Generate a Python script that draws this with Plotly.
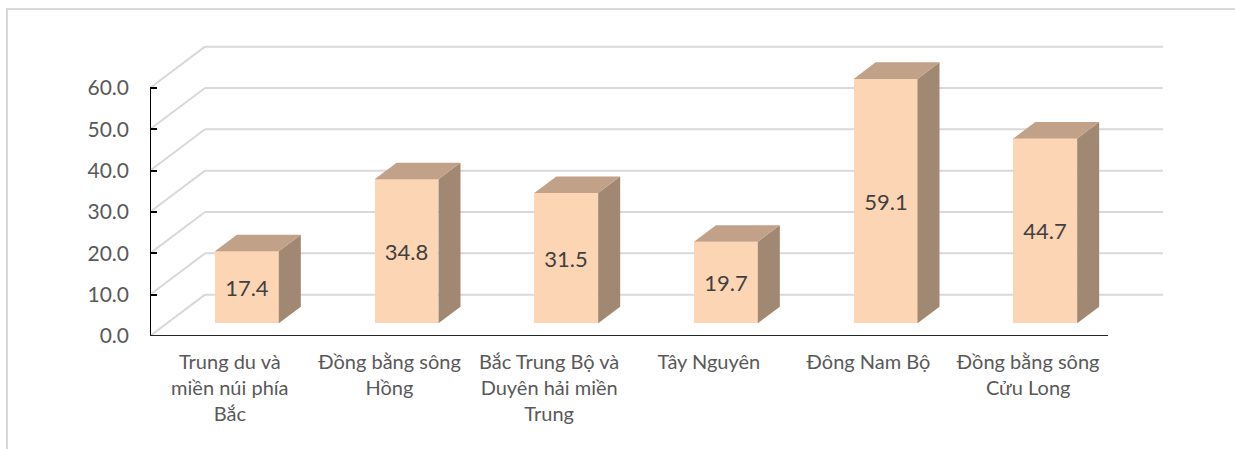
import plotly.graph_objects as go

# ---- data ----
categories = [
    "Trung du và<br>miền núi phía<br>Bắc",
    "Đồng bằng sông<br>Hồng",
    "Bắc Trung Bộ và<br>Duyên hải miền<br>Trung",
    "Tây Nguyên",
    "Đông Nam Bộ",
    "Đồng bằng sông<br>Cửu Long",
]
values = [17.4, 34.8, 31.5, 19.7, 59.1, 44.7]
value_labels = ["17.4", "34.8", "31.5", "19.7", "59.1", "44.7"]
y_ticks = [0, 10, 20, 30, 40, 50, 60]
y_tick_labels = ["0.0", "10.0", "20.0", "30.0", "40.0", "50.0", "60.0"]

# ---- 3D projection style parameters ----
DX, DY = 0.3445, 10.0        # depth vector (category units, value units)
T0, T1 = 0.31, 0.71          # bar depth span (fraction of full depth)
BAR_W = 0.4

FRONT = "#FCD5B4"
TOP = "#C1A187"
SIDE = "#A08872"
GRID = "#D9D9D9"
FONT = "Lato"

n = len(values)
centers = [i + 0.5 for i in range(n)]
fx = [c + T0 * DX for c in centers]
base = T0 * DY
ddx = (T1 - T0) * DX
ddy = (T1 - T0) * DY

fig = go.Figure()

# side and top faces
sx, sy = [], []
tx, ty = [], []
for c, v in zip(fx, values):
    xl, xr = c - BAR_W / 2, c + BAR_W / 2
    top = base + v
    sx += [xr, xr + ddx, xr + ddx, xr, xr, None]
    sy += [base, base + ddy, top + ddy, top, base, None]
    tx += [xl, xl + ddx, xr + ddx, xr, xl, None]
    ty += [top, top + ddy, top + ddy, top, top, None]

fig.add_trace(go.Scatter(x=sx, y=sy, mode="lines", fill="toself",
                         fillcolor=SIDE, line=dict(width=0, color=SIDE),
                         hoverinfo="skip", showlegend=False))
fig.add_trace(go.Scatter(x=tx, y=ty, mode="lines", fill="toself",
                         fillcolor=TOP, line=dict(width=0, color=TOP),
                         hoverinfo="skip", showlegend=False))

# front faces
fig.add_trace(go.Bar(
    x=fx, y=values, base=base, width=BAR_W,
    marker=dict(color=FRONT, line=dict(width=0)),
    text=value_labels, textposition="inside", insidetextanchor="middle",
    textangle=0, textfont=dict(family=FONT, size=22, color="#404040"),
    showlegend=False, hoverinfo="skip",
))

shapes = []
# back-wall gridlines and side-wall diagonals
for v in y_ticks:
    shapes.append(dict(type="line", xref="x", yref="y",
                       x0=DX, y0=v + DY, x1=n + DX, y1=v + DY,
                       line=dict(color=GRID, width=2), layer="below"))
    shapes.append(dict(type="line", xref="x", yref="y",
                       x0=0, y0=v, x1=DX, y1=v + DY,
                       line=dict(color=GRID, width=2), layer="below"))
# front axes
shapes.append(dict(type="line", xref="x", yref="y", x0=0, y0=0, x1=0, y1=max(y_ticks),
                   line=dict(color="#000000", width=2)))
shapes.append(dict(type="line", xref="x", yref="y", x0=0, y0=0, x1=n, y1=0,
                   line=dict(color="#262626", width=2)))
# outer chart border
shapes.append(dict(type="rect", xref="paper", yref="paper",
                   x0=-0.1395, y0=-0.45, x1=1.08, y1=1.1047,
                   line=dict(color="#D9D9D9", width=2), layer="below"))

fig.update_layout(
    width=1235, height=449,
    margin=dict(l=150, r=60, t=40, b=113),
    paper_bgcolor="white", plot_bgcolor="white",
    shapes=shapes,
    bargap=0,
    xaxis=dict(range=[0, 6.4195], tickvals=centers, ticktext=categories,
               showgrid=False, zeroline=False, showline=False, ticks="",
               ticklabelstandoff=12,
               tickfont=dict(family=FONT, size=20, color="#595959"),
               fixedrange=True),
    yaxis=dict(range=[0, 71.61], tickvals=y_ticks, ticktext=y_tick_labels,
               showgrid=False, zeroline=False, showline=False,
               ticks="inside", ticklen=7, tickwidth=2, tickcolor="#000000",
               ticklabelstandoff=20,
               tickfont=dict(family=FONT, size=21, color="#595959"),
               fixedrange=True),
    font=dict(family=FONT),
)

fig.write_html("out.html",
               config={"displayModeBar": False},
               post_script="document.body.style.margin='0';document.body.style.overflow='hidden';")
